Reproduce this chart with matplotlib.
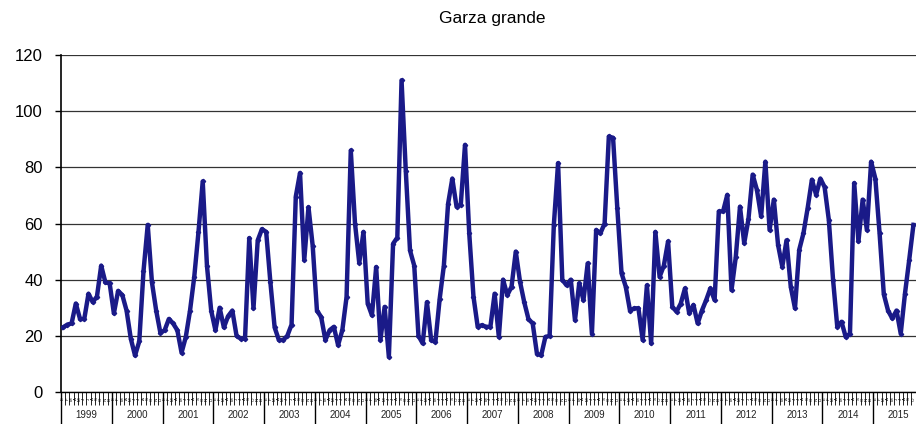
import matplotlib
matplotlib.use('Agg')
import matplotlib.pyplot as plt
import numpy as np

plt.rcParams['font.family'] = ['Liberation Sans', 'DejaVu Sans']

title = 'Garza grande'
years = [str(y) for y in range(1999, 2016)]
month_letters = ['E', 'F', 'M', 'A', 'M', 'J', 'J', 'A', 'S', 'O', 'N', 'D']
y_ticks = [0, 20, 40, 60, 80, 100, 120]

v1999 = [23, 24, 24.4, 31.5, 26, 26, 35, 32, 34, 45, 39, 38.7]
v2000 = [28, 36, 34.5, 29, 19, 13, 18, 43, 59.5, 39, 29, 21]
v2001 = [22, 26, 24.4, 22, 14, 19.6, 29, 41, 57, 75, 45, 29]
v2002 = [22, 30, 23, 27, 29, 20, 19, 19, 54.8, 29.8, 54, 58]
v2003 = [57, 39, 23, 18.5, 18.5, 20, 24, 69.6, 78, 47, 65.8, 52]
v2004 = [29, 26.7, 18.5, 22, 23.2, 16.7, 22, 33.8, 86, 60, 46, 57]
v2005 = [31.5, 27.3, 44.5, 18.5, 30.3, 12.5, 52.8, 55, 111, 78.8, 50.4, 45]
v2006 = [20, 17.3, 32, 18.5, 17.8, 33, 45, 67, 76, 66, 66.7, 88]
v2007 = [56.5, 34, 23.2, 23.8, 23.2, 23.2, 35, 19.6, 40, 34.5, 37.5, 50]
v2008 = [39.3, 32, 26, 24.4, 13.7, 13, 19.6, 20, 59.5, 81.5, 40, 38]
v2009 = [40, 25.6, 38.7, 32.7, 45.8, 20.8, 57.7, 56.5, 60, 91, 90.5, 65.5]
v2010 = [42.3, 37.5, 29, 29.8, 29.8, 18.5, 38, 17.3, 57, 41, 45, 53.6]
v2011 = [30.4, 28.6, 31.5, 36.9, 28, 31, 24.4, 29, 32.7, 36.9, 32.7, 64.3]
v2012 = [64.3, 70.2, 36.3, 48, 66, 53, 61.5, 77.4, 72, 62.5, 82, 57.7]
v2013 = [68.5, 52.4, 44.6, 54, 37.5, 29.8, 50.6, 56.5, 65.5, 75.6, 70.2, 76]
v2014 = [73, 61.3, 40, 23.2, 25, 19.6, 20.8, 74.4, 53.6, 68.5, 57.7, 82]
v2015 = [76, 56.5, 34.8, 29, 26.2, 29, 20.8, 35, 47, 59.5]

values = np.concatenate([v1999, v2000, v2001, v2002, v2003, v2004, v2005, v2006,
                         v2007, v2008, v2009, v2010, v2011, v2012, v2013, v2014, v2015])

W, H = 916, 424
fig = plt.figure(figsize=(W / 100, H / 100), dpi=100)
left, right, bottom, top = 61, 924, 392, 55
ax = fig.add_axes([left / W, 1 - bottom / H, (right - left) / W, (bottom - top) / H])

n_months = 12 * len(years)
x = np.arange(len(values)) + 0.5
ax.plot(x, values, color='#1a1a88', lw=3.2, marker='D', ms=2.2,
        solid_joinstyle='round', zorder=3)

ax.set_xlim(0, n_months)
ax.set_ylim(0, 120)
ax.set_yticks(y_ticks)
ax.grid(axis='y', color='#333333', lw=0.9)
ax.set_axisbelow(True)
for s in ['top', 'right']:
    ax.spines[s].set_visible(False)
ax.spines['left'].set_linewidth(1.2)
ax.spines['bottom'].set_linewidth(1.0)
ax.tick_params(axis='y', length=4, width=1, labelsize=12, pad=9)

ax.set_xticks(np.arange(0, n_months + 1, 12))
ax.set_xticks(np.arange(0, n_months + 1), minor=True)
ax.set_xticklabels([])
ax.tick_params(axis='x', which='major', length=23, width=1)
ax.tick_params(axis='x', which='minor', length=9, width=0.6)

ph = bottom - top
trans = ax.get_xaxis_transform()
for k, yr in enumerate(years):
    ax.text(12 * k + 6, -23 / ph, yr, transform=trans, ha='center', va='center',
            fontsize=7, color='#222222')
    for m, lt in enumerate(month_letters):
        idx = 12 * k + m
        if idx >= len(values):
            continue
        ax.text(idx + 0.5, -7 / ph, lt, transform=trans, rotation=90,
                ha='center', va='center', fontsize=3.2)

fig.text((left + right) / 2 / W, 1 - 18 / H, title, ha='center', va='center', fontsize=12.5)
fig.savefig('out.png', dpi=100)
